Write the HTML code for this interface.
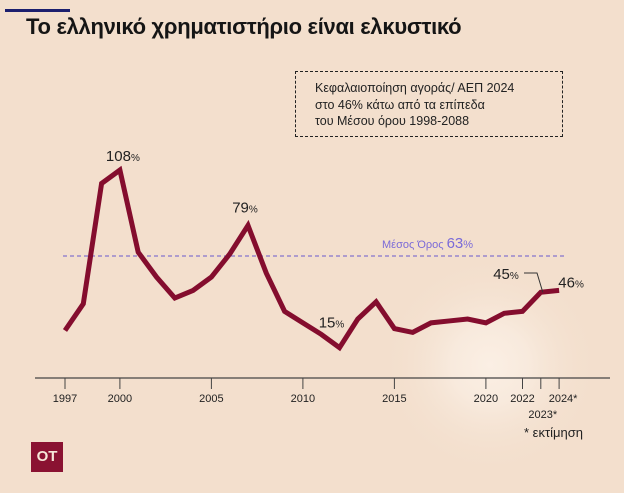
<!DOCTYPE html>
<html><head><meta charset="utf-8"><style>
body{margin:0;width:624px;height:493px;background:#f3dfcd;overflow:hidden;font-family:"Liberation Sans","DejaVu Sans",sans-serif;position:relative}
#title{position:absolute;left:26px;top:14px;font-size:22px;font-weight:bold;color:#151515;letter-spacing:-0.3px}
#note{position:absolute;left:295px;top:71px;width:268px;height:66px;border:1.6px dashed #222;box-sizing:border-box;padding:8px 0 0 19px;font-size:12.5px;line-height:16.5px;color:#222}
#logo{position:absolute;left:31px;top:442px;width:32px;height:30px;background:#8a1232;color:#f5e6d8;font-weight:bold;font-size:15px;text-align:center;line-height:30px}
</style></head><body>
<div style="position:absolute;left:5px;top:9px;width:65px;height:3px;background:#1c1f6e"></div>
<div id="title">Το ελληνικό χρηματιστήριο είναι ελκυστικό</div>
<div id="note">Κεφαλαιοποίηση αγοράς/ ΑΕΠ 2024<br>στο 46% κάτω από τα επίπεδα<br>του Μέσου όρου 1998-2088</div>
<svg id="chart" width="624" height="493" style="position:absolute;left:0;top:0">
<defs><radialGradient id="glow"><stop offset="0" stop-color="#fbefe4"/><stop offset="0.35" stop-color="#f8eadd"/><stop offset="1" stop-color="#f3dfcd" stop-opacity="0"/></radialGradient></defs>
<circle cx="490" cy="365" r="110" fill="url(#glow)"/>
<g id="g"></g>
</svg>
<div id="logo">ΟΤ</div>
<script>
const years=[1997,1998,1999,2000,2001,2002,2003,2004,2005,2006,2007,2008,2009,2010,2011,2012,2013,2014,2015,2016,2017,2018,2019,2020,2021,2022,2023,2024];
const values=[24,38,101,108,65,52,41,45,52,64,79,54,34,28,22,15,30,39,25,23,28,29,30,28,33,34,44,45];
const tickYears=[1997,2000,2005,2010,2015,2020,2022,2023,2024];
const tickLabels=["1997","2000","2005","2010","2015","2020","2022","","2024*"];
const avgValue=63;
const NS="http://www.w3.org/2000/svg";
const g=document.getElementById('g');
const xs=y=>65+(y-1997)*18.3;
const ys=v=>256-(v-63)*1.91;
function mk(t,a){const e=document.createElementNS(NS,t);for(const k in a)e.setAttribute(k,a[k]);g.appendChild(e);return e;}
let e=mk('line',{x1:35,x2:610,y1:378,y2:378,stroke:'#444','stroke-width':1.2});


tickYears.forEach((yr,i)=>{
 const t=mk('line',{x1:xs(yr),x2:xs(yr),y1:378,y2:389,stroke:'#444','stroke-width':1});
 
 
 if(tickLabels[i]){const l=mk('text',{x:xs(yr)+(yr==2024?4:0),y:402,'text-anchor':'middle','font-size':11,fill:'#222'});l.textContent=tickLabels[i];
 
 }
});
let l2=mk('text',{x:xs(2023)+2,y:418,'text-anchor':'middle','font-size':11,fill:'#222'});l2.textContent='2023*';


let fn=mk('text',{x:524,y:437,'font-size':13,fill:'#222'});fn.textContent='*  εκτίμηση';


let av=mk('line',{x1:63,x2:565,y1:ys(avgValue),y2:ys(avgValue),stroke:'#6a5acd','stroke-width':1,'stroke-dasharray':'4,3'});


let at=mk('text',{x:382,y:ys(avgValue)-8,'font-size':11,fill:'#7a6ad8'});at.innerHTML='Μέσος Όρος <tspan font-size="15">63</tspan>%';


let p=mk('polyline',{points:years.map((y,i)=>xs(y)+','+ys(values[i])).join(' '),fill:'none',stroke:'#840d2e','stroke-width':5,'stroke-linejoin':'miter'});


function lab(yr,txt,dx,dy,name){const i=years.indexOf(yr);const t=mk('text',{x:xs(yr)+dx,y:ys(values[i])+dy,'font-size':15,fill:'#222','text-anchor':'middle'});t.innerHTML=txt+'<tspan font-size="10">%</tspan>';
 
 }
lab(2000,'108',3,-9,'label-2000');
lab(2007,'79',-3,-13,'label-2007');
lab(2012,'15',-8,-20,'label-2012');
lab(2024,'46',12,-3,'label-2024');
let l45=mk('text',{x:506,y:279,'font-size':15,fill:'#222','text-anchor':'middle'});l45.innerHTML='45<tspan font-size="10">%</tspan>';


let ld=mk('polyline',{points:`524,273 537,273 ${xs(2023)+2},${ys(values[26])}`,fill:'none',stroke:'#333','stroke-width':1});


</script>
</body></html>
